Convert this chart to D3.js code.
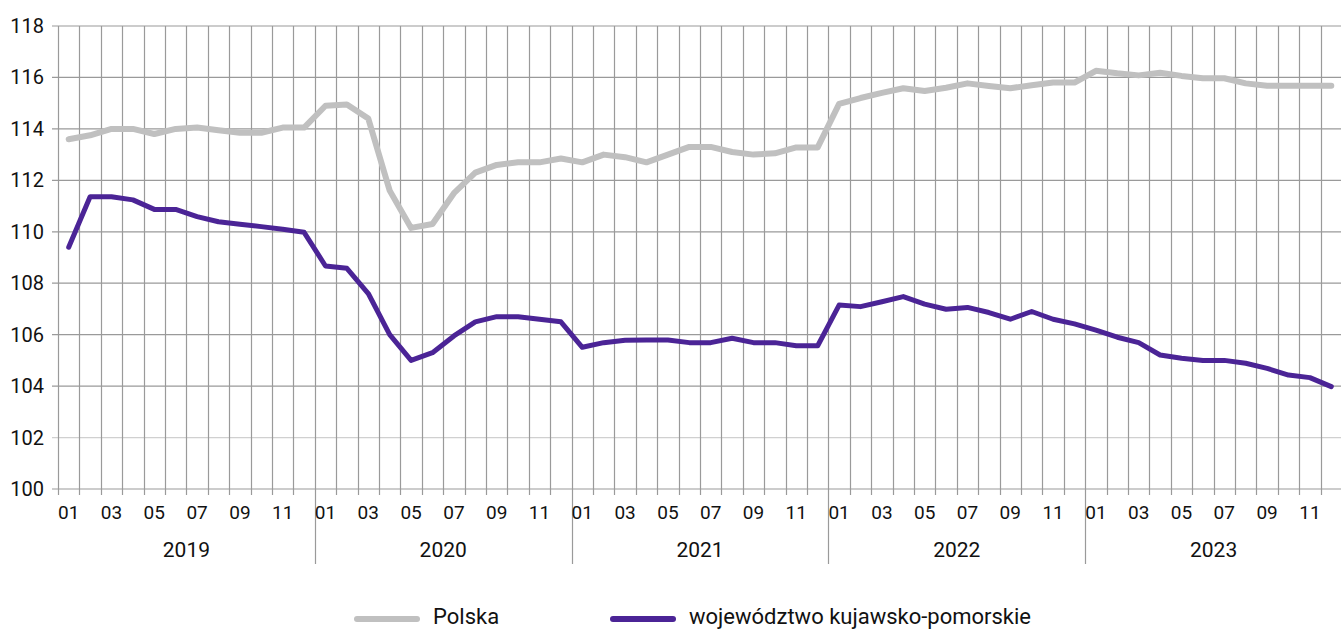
<!DOCTYPE html>
<html>
<head>
<meta charset="utf-8">
<script src="https://cdn.jsdelivr.net/npm/d3@7"></script>
<style>
  body { margin: 0; background: #fff; }
  svg { display: block; font-family: "Roboto", "Noto Sans", sans-serif; }
</style>
</head>
<body>
<div id="chart"></div>
<script>
const years = ["2019", "2020", "2021", "2022", "2023"];
const monthLabels = ["01", "", "03", "", "05", "", "07", "", "09", "", "11", ""];
const yTicks = [100, 102, 104, 106, 108, 110, 112, 114, 116, 118];

// Polska
const polska = [
  113.6, 113.75, 114.0, 114.0, 113.8, 114.0, 114.05, 113.95, 113.85, 113.85, 114.05, 114.05,
  114.9, 114.95, 114.4, 111.6, 110.15, 110.3, 111.5, 112.3, 112.6, 112.7, 112.7, 112.85,
  112.7, 113.0, 112.9, 112.7, 113.0, 113.3, 113.3, 113.1, 113.0, 113.05, 113.28, 113.28,
  114.97, 115.2, 115.4, 115.58, 115.47, 115.6, 115.77, 115.67, 115.58, 115.7, 115.8, 115.8,
  116.26, 116.16, 116.08, 116.18, 116.06, 115.97, 115.97, 115.77, 115.68, 115.68, 115.68, 115.68
];
// województwo kujawsko-pomorskie
const kujPom = [
  109.4, 111.36, 111.36, 111.24, 110.87, 110.87, 110.59, 110.39, 110.29, 110.2, 110.1, 109.98,
  108.67, 108.58, 107.6, 106.0, 105.0, 105.3, 105.95, 106.5, 106.7, 106.7, 106.6, 106.5,
  105.51, 105.69, 105.78, 105.79, 105.79, 105.69, 105.69, 105.86, 105.69, 105.69, 105.57, 105.57,
  107.15, 107.09, 107.28, 107.48, 107.19, 106.99, 107.06, 106.86, 106.6, 106.9, 106.6, 106.42,
  106.18, 105.9, 105.69, 105.21, 105.08, 105.0, 105.0, 104.89, 104.69, 104.43, 104.33, 103.98
];

const width = 1341, height = 632;
const margin = {left: 58, right: 0, top: 26, bottom: 143};
const plotW = 1342 - margin.left;
const plotH = height - margin.top - margin.bottom;

const svg = d3.select("#chart").append("svg")
  .attr("width", width)
  .attr("height", height);

const months = d3.range(polska.length);

const x = d3.scaleBand()
  .domain(months)
  .range([margin.left, margin.left + plotW])
  .paddingInner(0).paddingOuter(0);

const y = d3.scaleLinear()
  .domain([100, 118])
  .range([margin.top + plotH, margin.top]);

const gridColor = "#9a9a9a";

// horizontal grid
svg.append("g")
  .selectAll("line")
  .data(yTicks)
  .enter().append("line")
  .attr("x1", margin.left - 6)
  .attr("x2", width)
  .attr("y1", d => y(d))
  .attr("y2", d => y(d))
  .attr("stroke", d => d === 102 ? "#d0d0d0" : gridColor)
  .attr("stroke-width", 1.2);

// vertical grid at month boundaries (+ ticks below the axis)
svg.append("g")
  .selectAll("line")
  .data(months)
  .enter().append("line")
  .attr("x1", d => Math.round(x(d)) + 0.5)
  .attr("x2", d => Math.round(x(d)) + 0.5)
  .attr("y1", y(118))
  .attr("y2", d => (d % 12 === 0 && d > 0) ? 564 : y(100) + 6)
  .attr("stroke", gridColor)
  .attr("stroke-width", 1.2);

// y axis labels
svg.append("g")
  .selectAll("text")
  .data(yTicks)
  .enter().append("text")
  .attr("x", 44)
  .attr("y", d => y(d))
  .attr("dy", "0.35em")
  .attr("text-anchor", "end")
  .attr("font-size", 20)
  .attr("fill", "#111")
  .text(d => d);

// month labels
svg.append("g")
  .selectAll("text")
  .data(months.filter(d => monthLabels[d % 12] !== ""))
  .enter().append("text")
  .attr("x", d => x(d) + x.bandwidth() / 2)
  .attr("y", 512)
  .attr("dy", "0.35em")
  .attr("text-anchor", "middle")
  .attr("font-size", 19)
  .attr("fill", "#111")
  .text(d => monthLabels[d % 12]);

// year labels
svg.append("g")
  .selectAll("text")
  .data(years)
  .enter().append("text")
  .attr("x", (d, i) => x(i * 12) + x.bandwidth() * 6)
  .attr("y", 550)
  .attr("dy", "0.35em")
  .attr("text-anchor", "middle")
  .attr("font-size", 21)
  .attr("fill", "#111")
  .text(d => d);

// lines
const line = d3.line()
  .x((d, i) => x(i) + x.bandwidth() / 2)
  .y(d => y(d));

svg.append("path")
  .datum(polska)
  .attr("fill", "none")
  .attr("stroke", "#c0c0c0")
  .attr("stroke-width", 6)
  .attr("stroke-linejoin", "round")
  .attr("stroke-linecap", "round")
  .attr("d", line);

svg.append("path")
  .datum(kujPom)
  .attr("fill", "none")
  .attr("stroke", "#4b2496")
  .attr("stroke-width", 5)
  .attr("stroke-linejoin", "round")
  .attr("stroke-linecap", "round")
  .attr("d", line);

// legend
const legendY = 616;
const legend = [
  {name: "Polska", color: "#c0c0c0", x: 357},
  {name: "województwo kujawsko-pomorskie", color: "#4b2496", x: 613}
];
const lg = svg.append("g")
  .selectAll("g")
  .data(legend)
  .enter().append("g");
lg.append("line")
  .attr("x1", d => d.x)
  .attr("x2", d => d.x + 60)
  .attr("y1", legendY + 3)
  .attr("y2", legendY + 3)
  .attr("stroke", d => d.color)
  .attr("stroke-width", 6)
  .attr("stroke-linecap", "round");
lg.append("text")
  .attr("x", d => d.x + 76)
  .attr("y", legendY)
  .attr("dy", "0.35em")
  .attr("font-size", 22)
  .attr("fill", "#111")
  .text(d => d.name);
</script>
</body>
</html>
